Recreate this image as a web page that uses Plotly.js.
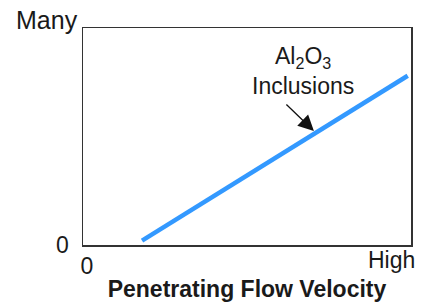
<!DOCTYPE html>
<html>
<head>
<meta charset="utf-8">
<script src="https://cdn.plot.ly/plotly-3.0.1.min.js"></script>
<style>html,body{margin:0;padding:0;background:#fff;}#chart{width:422px;height:306px;}</style>
</head>
<body>
<div id="chart"></div>
<script>
// Data
const lineX = [0.18, 0.99];
const lineY = [0.02, 0.78];
const xTickLabels = ["0", "High"];
const yTickLabels = ["0", "Many"];
const xTitle = "Penetrating Flow Velocity";
const seriesLabel = "Al<sub>2</sub>O<sub>3</sub><br>Inclusions";

const FONT = "Liberation Sans, Arial, sans-serif";

const trace = {
  x: lineX, y: lineY, type: "scatter", mode: "lines",
  line: {color: "#3399ff", width: 4.5},
  hoverinfo: "skip", showlegend: false, cliponaxis: false
};

const layout = {
  width: 422, height: 306,
  margin: {l: 83, r: 11, t: 28, b: 61},
  paper_bgcolor: "#fff", plot_bgcolor: "#fff",
  font: {family: FONT, color: "#1a1a1a", size: 22},
  showlegend: false,
  xaxis: {
    range: [0, 1], tickvals: [0], ticktext: [xTickLabels[0]],
    showgrid: false, zeroline: false, ticks: "",
    showline: true, mirror: true, linecolor: "#333", linewidth: 1.5,
    tickfont: {family: FONT, size: 23, color: "#1a1a1a"},
    ticklabelshift: 4,
    title: {text: "<b>" + xTitle + "</b>", font: {family: FONT, size: 23, color: "#1a1a1a"}, standoff: 3},
    fixedrange: true
  },
  yaxis: {
    range: [0, 1], tickvals: [0], ticktext: [yTickLabels[0]],
    showgrid: false, zeroline: false, ticks: "",
    showline: true, mirror: true, linecolor: "#333", linewidth: 1.5,
    tickfont: {family: FONT, size: 23, color: "#1a1a1a"},
    ticklabelstandoff: 8,
    fixedrange: true
  },
  annotations: [
    {xref: "paper", yref: "paper", x: -0.111, y: 1.037, text: yTickLabels[1],
     showarrow: false, xanchor: "center", yanchor: "middle",
     font: {family: FONT, size: 25, color: "#1a1a1a"}},
    {xref: "paper", yref: "paper", x: 0.94, y: -0.07, text: xTickLabels[1],
     showarrow: false, xanchor: "center", yanchor: "middle",
     font: {family: FONT, size: 23, color: "#1a1a1a"}},
    {xref: "x", yref: "y", x: 0.671, y: 0.80, text: seriesLabel,
     showarrow: false, xanchor: "center", yanchor: "middle",
     font: {family: FONT, size: 23, color: "#1a1a1a"}},
    {xref: "x", yref: "y", x: 0.704, y: 0.525, text: "",
     showarrow: true, arrowhead: 2, arrowsize: 2.4, arrowwidth: 1.3,
     arrowcolor: "#111", ax: -29, ay: -28, standoff: 0}
  ]
};

Plotly.newPlot("chart", [trace], layout, {displayModeBar: false, staticPlot: true});
</script>
</body>
</html>
